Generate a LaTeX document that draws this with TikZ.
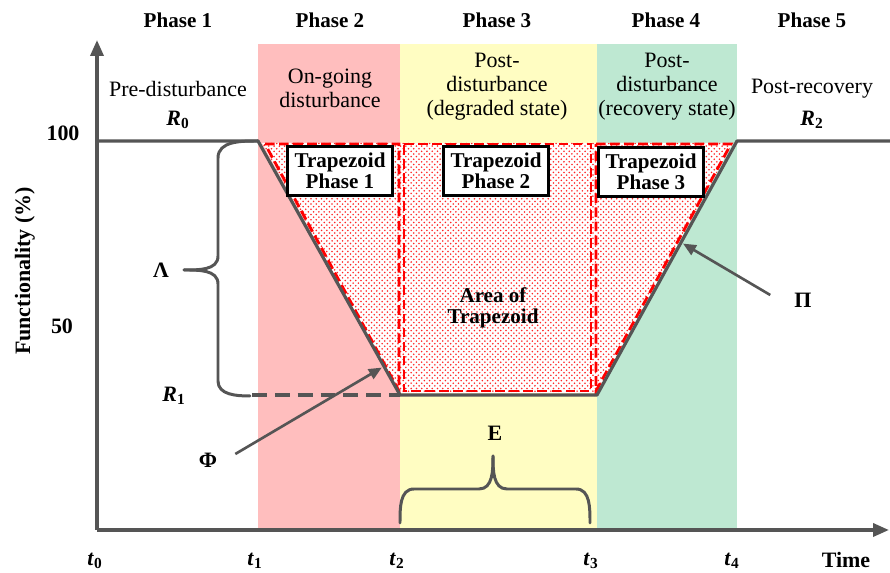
\documentclass[tikz,border=0pt]{standalone}
\usepackage{fontspec}
\setmainfont{Liberation Serif}
\usetikzlibrary{arrows.meta, positioning, calc, patterns}
\definecolor{cline}{HTML}{555555}
\definecolor{cpink}{HTML}{FFBEBE}
\definecolor{cyellow}{HTML}{FFFDC2}
\definecolor{cgreen}{HTML}{BEE8D2}
\tikzset{
  band/.style={fill=#1, draw=none},
  curve/.style={draw=cline, line width=1.8pt, line join=round},
  axis/.style={draw=cline, line width=2pt, -{Triangle[length=3.2mm, width=2.6mm]}},
  pointer/.style={draw=cline, line width=1.5pt, -{Triangle[length=2.6mm, width=2.2mm]}},
  brace/.style={draw=cline, line width=1.7pt, line cap=round},
  reddash/.style={draw=red, line width=1.6pt, dash pattern=on 5.5pt off 2.5pt},
  dots/.style={preaction={fill=white}, pattern=crosshatch dots, pattern color=red!85},
  phase/.style={font=\bfseries\fontsize{12}{14}\selectfont},
  desc/.style={font=\fontsize{12.5}{13.6}\selectfont, align=center},
  tbox/.style={draw=black, fill=white, line width=1.3pt, align=center, inner sep=2pt,
    minimum width=2.1cm, minimum height=0.98cm, font=\bfseries\fontsize{12}{12}\selectfont},
  lbl/.style={font=\bfseries\fontsize{12.5}{14}\selectfont},
}
\newcommand{\bsym}[2]{\textbf{\textit{#1}}\textsubscript{\textbf{#2}}}

\begin{document}
\begin{tikzpicture}[x=0.02cm, y=-0.02cm]
  \useasboundingbox (0,0) rectangle (890,573);
  % phase bands
  \fill[band=cpink] (258,44) rectangle (400,530);
  \fill[band=cyellow] (400,44) rectangle (597,530);
  \fill[band=cgreen] (597,44) rectangle (737,530);
  % curve corners
  \coordinate (a) at (258,141);
  \coordinate (b) at (400,395);
  \coordinate (c) at (597,395);
  \coordinate (d) at (737,141);
  \coordinate (o) at (97,530);
  % dotted trapezoid
  \path[dots] (262,143) -- (733,143) -- (597,393) -- (400,393) -- cycle;
  \draw[reddash] (265,144) -- (399,144) -- (399,391) -- cycle;
  \draw[reddash] (404,144) -- (591,144) -- (591,391) -- (404,391) -- cycle;
  \draw[reddash] (596,144) -- (731,144) -- (596,391) -- cycle;
  % functionality curve
  \draw[draw=cline, line width=2pt, dash pattern=on 8.5pt off 4.5pt] (252,395) -- (b);
  \draw[curve] (97,141) -- (a) -- (b) -- (c) -- (d) -- (890,141);
  % axes
  \draw[axis] (o) -- (97,40);
  \draw[axis] (o) -- (889,530);
  % braces
  \draw[brace] (a) to[out=180,in=90] (218,158) -- (218,256) to[out=-90,in=0] (184,270);
  \draw[brace] (250,396) to[out=180,in=-90] (218,381) -- (218,284) to[out=90,in=0] (184,270);
  \draw[brace] (400,523) to[out=90,in=180] (414,489) -- (479,489) to[out=0,in=-90] (493,456);
  \draw[brace] (590,523) to[out=90,in=0] (576,489) -- (507,489) to[out=180,in=-90] (493,456);
  % phase titles
  \node[phase] (p1) at (178,20) {Phase 1};
  \node[phase] (p2) at (330,20) {Phase 2};
  \node[phase] (p3) at (497,20) {Phase 3};
  \node[phase] (p4) at (666,20) {Phase 4};
  \node[phase] (p5) at (812,20) {Phase 5};
  \node[desc] (d1) at (178,89) {Pre-disturbance};
  \node[desc] (r0) at (178,120) {\bsym{R}{0}};
  \node[desc] (d2) at (330,88) {On-going\\disturbance};
  \node[desc] (d3) at (497,87) {Post-\\disturbance\\(degraded state)};
  \node[desc] (d4) at (667,87) {Post-\\disturbance\\(recovery state)};
  \node[desc] (d5) at (812,89) {Post-recovery};
  \node[desc] (r2) at (812,120) {\bsym{R}{2}};
  % trapezoid boxes
  \node[tbox] (tz1) at (340,171) {Trapezoid\\Phase 1};
  \node[tbox] (tz2) at (496,171) {Trapezoid\\Phase 2};
  \node[tbox] (tz3) at (651,172) {Trapezoid\\Phase 3};
  \node[tbox, draw=none, fill=none] (area) at (493,308) {Area of\\Trapezoid};
  % axis labels
  \node[lbl] (y100) at (63,133) {100};
  \node[lbl] (y50) at (62,326) {50};
  \node[lbl, rotate=90] (ylab) at (25,271) {Functionality (\%)};
  \node[desc] (r1) at (174,396) {\bsym{R}{1}};
  \node[lbl] (time) at (846,560) {Time};
  \foreach \x/\i in {95/0, 255/1, 397/2, 591/3, 732/4}
    \node[desc] (t\i) at (\x,561) {\bsym{t}{\i}};
  % greek markers
  \node[lbl] (lam) at (161,270) {Λ};
  \node[lbl] (phi) at (208,460) {Φ};
  \node[lbl] (pi) at (803,300) {Π};
  \node[lbl] (eps) at (495,433) {E};
  \coordinate (phitip) at ($(a)!0.9!(b)$);
  \coordinate (pitip) at ($(c)!0.6!(d)$);
  \draw[pointer] (phi.east) ++(12,-6) -- ($(phitip)+(-4,-2)$);
  \draw[pointer] (pi.west) ++(-18,-5) -- ($(pitip)+(2,1)$);
\end{tikzpicture}
\end{document}
